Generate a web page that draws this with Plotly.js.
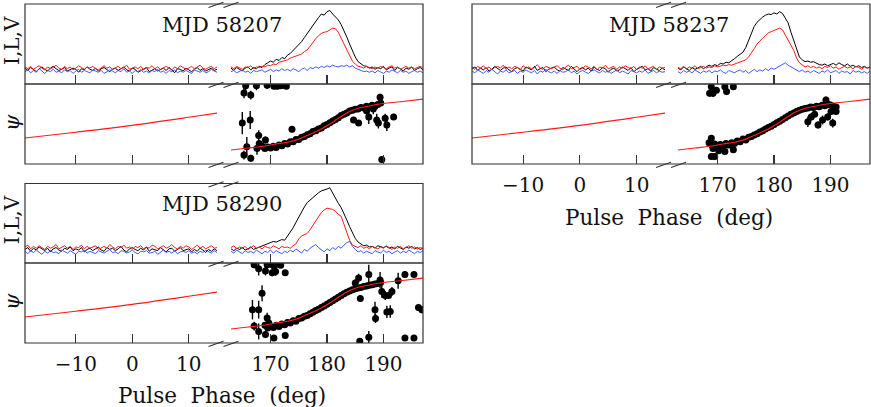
<!DOCTYPE html>
<html><head><meta charset="utf-8">
<script src="https://cdn.plot.ly/plotly-3.0.1.min.js"></script>
<style>html,body{margin:0;padding:0;background:#fff}#chart{width:871px;height:407px}</style>
</head><body><div id="chart"></div>
<script>
// ---------- DATA ----------
const phaseStartLeft = -19, phaseStartRight = 163, phaseStep = 0.5;
const rangeLeft = [-19, 15], rangeRight = [163, 197];
const tickLeft = [-10, 0, 10], tickRight = [170, 180, 190];
const paRange = [-90, 90];
const panelLabels = ['MJD 58207', 'MJD 58237', 'MJD 58290'];
const xTitle = 'Pulse&nbsp; Phase&nbsp; (deg)';

// profiles (percent of peak I), left segment -19..15, right segment 163..197, step 0.5 deg
const mjd58207_I_left = [3,-1,4,0,-3,2,5,1,-2,3, 6,2,-1,1,4,-2,0,3,1,-4, 2,0,5,1,-1,3,-2,2,4,0, -3,1,3,-1,2,5,0,-2,3,1, -4,-1,2,4,-3,0,2,-2,1,3, -1,4,0,-5,2,1,-2,3,0,-3, 1,4,-1,2,-2,0,3,-1,1];
const mjd58207_L_left = [5,2,6,1,4,7,3,0,5,2, 4,8,3,1,6,2,5,0,3,7, 4,1,5,3,6,2,0,4,7,3, 5,1,3,6,2,4,8,1,3,5, 2,6,0,4,3,7,2,5,1,4, 6,3,0,5,2,7,4,1,3,6, 2,5,8,3,1,4,6,2,5];
const mjd58207_V_left = [-3,0,-5,-1,-4,2,-2,-6,-1,-3, 1,-4,-2,-5,0,-3,-1,-6,-2,1, -4,-1,-3,-5,0,-2,-4,-1,-6,-3, 0,-2,-5,-1,-3,2,-4,-2,-6,-1, -3,0,-4,-2,-5,-1,-3,1,-4,-2, -6,-1,-3,0,-5,-2,-4,-1,-3,-6, 0,-2,-4,-1,-5,-3,1,-2,-4];
const mjd58207_I_right = [3,-1,4,1,-2,3,5,0,4,2, 6,4,9,12,15,13,18,16,21,19, 25,28,33,37,42,48,55,62,69,77, 83,89,95,93,99,101,95,90,85,77, 67,56,44,32,22,14,10,7,6,3, 5,1,4,2,6,0,3,5,-1,4, 2,-2,3,1,5,-1,2,4,0];
const mjd58207_L_right = [5,2,6,3,1,5,4,7,2,5, 4,6,5,8,7,10,9,13,14,16, 17,20,22,24,25,27,31,34,40,47, 53,58,62,64,65,68,71,70,64,54, 44,34,24,15,10,6,5,3,6,4, 2,5,3,6,4,2,5,7,3,5, 1,4,6,3,5,2,4,6,3];
const mjd58207_V_right = [-3,-1,-5,-2,0,-4,-2,-6,-1,-3, -2,0,-4,-1,1,-3,0,-2,2,-1, 1,-2,2,0,-3,1,3,-1,4,2, 5,3,6,4,7,5,8,6,5,7, 6,8,5,7,3,1,-1,-3,-2,-4, -2,-5,-1,-3,-6,-2,-4,0,-3,-5, -1,-4,-2,-6,-3,-1,-4,-2,-5];

const mjd58237_I_left = [2,5,-1,3,0,4,-2,1,6,2, -1,3,5,0,-3,2,4,1,-2,5, 3,0,6,-1,2,4,-3,1,3,5, 0,-2,4,2,-1,6,1,-3,2,4, 0,3,-2,5,1,-1,4,2,-4,1, 3,-2,0,5,2,-1,4,-3,1,3, 6,0,2,-2,4,1,-1,3,0];
const mjd58237_L_left = [4,1,6,3,7,2,5,0,4,6, 3,8,1,5,2,6,4,0,7,3, 5,2,4,9,3,1,6,4,2,5, 7,3,0,5,8,2,4,6,1,3, 7,4,2,6,0,5,3,8,2,4, 6,1,5,3,7,4,2,6,0,5, 3,7,2,4,6,1,5,3,4];
const mjd58237_V_left = [-2,-5,0,-3,-6,-1,-4,1,-3,-7, -2,-4,0,-5,-3,-1,-6,-2,-4,0, -3,-5,-1,-7,-2,-4,1,-3,-5,-2, -6,-1,-4,-3,0,-5,-2,-7,-3,-1, -4,-6,-2,0,-3,-5,-1,-4,-2,-6, -3,0,-5,-2,-4,-7,-1,-3,-5,-2, -4,0,-6,-3,-1,-5,-2,-4,-3];
const mjd58237_I_right = [3,0,5,2,-1,4,1,3,6,2, 5,8,6,9,7,11,10,13,12,15, 19,23,26,30,38,50,65,74,81,86, 90,93,95,94,97,95,99,96,89,80, 64,50,34,22,17,14,15,13,14,11, 9,8,10,7,9,11,8,12,9,7, 10,6,8,5,7,4,6,3,5];
const mjd58237_L_right = [4,2,6,1,5,3,7,2,4,6, 3,5,4,7,5,6,8,7,9,8, 10,12,13,15,17,22,28,36,44,50, 54,58,63,65,67,69,71,68,60,52, 42,33,20,12,8,5,7,4,6,3, 5,2,6,4,7,3,5,1,4,6, 3,5,2,6,4,1,5,3,4];
const mjd58237_V_right = [-3,-6,-1,-4,-2,-5,0,-3,-6,-2, -4,-1,-5,-2,-3,0,-4,-6,-1,-3, -5,-2,0,-4,-1,-6,-2,1,-3,0, -2,2,-1,3,1,4,6,9,12,8, 5,2,-1,-3,0,-4,-2,-5,-1,-3, -6,-2,-4,0,-5,-3,-1,-6,-2,-4, -3,-7,-1,-4,-2,-5,-3,-6,-2];

const mjd58290_I_left = [1,4,-2,3,0,5,2,-1,3,-3, 2,4,0,-2,3,1,5,-1,2,0, 4,-3,1,3,-1,2,5,0,-2,4, 1,3,-1,2,6,0,-3,2,4,1, -1,3,0,5,-2,2,1,-1,4,0, -3,2,3,-2,1,4,-1,0,2,-3, 1,-2,3,0,-4,1,-2,2,-1];
const mjd58290_L_left = [5,8,2,6,3,7,4,1,6,3, 5,9,2,4,7,3,6,1,5,4, 8,2,6,3,5,7,1,4,6,3, 9,5,2,6,4,8,3,5,1,6, 4,7,2,5,3,8,6,2,4,7, 3,5,9,4,2,6,3,7,5,1, 4,8,3,6,2,5,7,3,4];
const mjd58290_V_left = [-2,-6,-1,-4,0,-3,-7,-2,-5,-1, -4,-3,-6,0,-2,-5,-1,-4,-7,-2, -3,0,-5,-2,-4,-6,-1,-3,-5,-2, 1,-4,-3,-6,-1,-2,-5,-3,0,-4, -6,-2,-3,-1,-5,-4,-2,-7,-3,0, -4,-2,-5,-1,-6,-3,-2,-4,-1,-5, -3,-6,-2,-4,0,-3,-5,-1,-4];
const mjd58290_I_right = [2,-1,3,1,4,0,2,5,1,3, 4,7,9,11,12,14,13,15,17,16, 22,28,36,45,54,62,70,77,81,86, 89,93,96,97,99,101,92,84,76,69, 60,49,38,27,19,13,10,7,8,5, 6,3,7,5,4,6,3,5,2,6, 4,1,5,3,6,2,4,1,3];
const mjd58290_L_right = [4,7,2,5,3,6,1,4,7,3, 5,2,6,4,3,7,5,2,6,4, 5,3,7,10,18,23,25,27,33,40, 47,55,61,65,68,67,66,63,58,55, 42,30,16,8,6,4,7,3,5,2, 6,4,2,5,3,7,4,1,5,3, 6,2,4,7,3,5,2,4,3];
const mjd58290_V_right = [-2,-5,0,-3,-6,-1,-4,-2,-5,0, -3,-6,-2,-4,0,-5,-1,-3,-6,-2, -4,0,-3,2,-1,-5,1,-2,3,6, 9,4,0,-3,2,-1,4,1,6,3, 8,12,14,6,1,-3,-1,-5,-2,-4, -6,-1,-3,-5,0,-4,-2,-6,-3,-1, -5,-2,-4,0,-3,-6,-2,-4,-1];

// position angle points (deg), with errors
const mjd58207_paPhase = [168,168.5,169,169.5,170,170.5,171,171.5,172,172.5,173,173.5,174,174.5,175,175.5,176,176.5,177,177.5,178,178.5,179,179.5,180,180.5,181,181.5,182,182.5,183,183.5,184,184.5,185,185.5,186,186.5,187,187.5,188,188.5,189,189.5,
 165.6,167.5,169.4,170.6,171.2,171.8,172.4,172.8,165.3,166.5,165.0,166.4,167.9,165.8,167.6,165.3,166.5,169.1,173.8,184.7,185.6,187.4,188.8,189.1,190.3,190.6,191.8,189.4,189.7,187.0,188.2];
const mjd58207_pa = [-44,-50,-55,-52,-54,-50,-53,-47,-49,-44,-45,-40,-40,-35,-35,-30,-28,-24,-22,-17,-15,-11,-9,-4,-1,3,7,10,14,19,22,25,29,31,33,34,37,36,40,38,42,40,44,47,
 86,86,87,85,85,86,87,85,70,65,2,9,-26,-51,-55,-70,-77,-36,-12,9,2,16,9,2,13,-2,16,60,-80,30,34];
const mjd58207_paErr = [6,5,4,4,3,3,3,3,3,3,3,3,3,3,2,2,2,2,2,2,2,2,2,2,2,2,2,2,2,2,2,2,2,3,3,3,3,4,4,5,5,6,6,7,
 12,10,8,6,5,5,4,5,12,10,25,20,12,22,14,10,8,8,7,7,6,16,14,12,10,14,7,8,5,14,12];

const mjd58237_paPhase = [168.5,169,169.5,170,170.5,171,171.5,172,172.5,173,173.5,174,174.5,175,175.5,176,176.5,177,177.5,178,178.5,179,179.5,180,180.5,181,181.5,182,182.5,183,183.5,184,184.5,185,185.5,186,186.5,187,187.5,188,188.5,189,189.5,190,190.5,191,
 168.9,169.2,169.8,171.3,171.6,172.8,168.6,168.9,169.5,171.3,172.8,171.6,168.9,169.2,170.2,186.0,187.8,188.6,190.1,190.4,191.0,189.2,189.0,189.5,186.6,187.2];
const mjd58237_pa = [-42,-48,-45,-50,-46,-49,-44,-47,-42,-44,-38,-40,-34,-36,-30,-28,-25,-22,-18,-15,-11,-8,-5,-1,3,6,10,14,18,22,25,28,31,33,35,36,38,37,40,39,42,41,45,43,40,38,
 84,69,76,84,73,84,69,-73,-73,-62,-58,-47,-32,-55,-60,5,-2,9,28,2,28,54,43,16,16,22];
const mjd58237_paErr = [5,5,4,4,4,4,3,3,3,3,3,3,3,3,3,2,2,2,2,2,2,2,2,2,2,2,2,2,2,2,2,2,2,3,3,3,3,3,4,4,5,5,6,6,6,7,
 6,8,6,5,8,5,8,6,8,6,5,4,5,8,6,12,8,10,8,10,5,8,6,8,8,6];

const mjd58290_paPhase = [169,169.5,170,170.5,171,171.5,172,172.5,173,173.5,174,174.5,175,175.5,176,176.5,177,177.5,178,178.5,179,179.5,180,180.5,181,181.5,182,182.5,183,183.5,184,184.5,185,185.5,186,186.5,187,187.5,188,188.5,189,189.5,
 167.1,167.9,169.4,170.0,170.6,171.2,171.8,170.9,170.3,172.6,169.1,166.8,167.9,168.5,167.9,169.4,169.7,169.1,170.6,172.6,167.1,
 185.0,185.6,185.9,187.4,188.5,188.6,189.4,189.7,190.3,190.6,190.9,191.2,191.5,192.6,193.8,195.4,196.2,196.8,185.8,187.4,193.8,195.4];
const mjd58290_pa = [-50,-56,-52,-55,-50,-53,-47,-49,-44,-45,-40,-41,-35,-34,-30,-28,-24,-21,-17,-14,-10,-7,-3,1,5,9,13,17,21,24,27,30,32,34,35,37,38,40,41,43,44,46,
 86,77,86,87,83,87,85,71,68,68,72,-15,-15,22,-64,-34,-45,-71,-79,-73,-52,
 45,56,10,64,-15,-35,52,26,17,-20,17,-19,26,50,64,64,-10,-15,-86,-77,-79,-79];
const mjd58290_paErr = [6,6,5,5,4,4,4,3,3,3,3,3,3,3,3,2,2,2,2,2,2,2,2,2,2,2,2,2,2,2,2,3,3,3,3,3,4,4,4,5,5,6,
 8,15,8,6,8,6,6,10,8,6,10,22,20,18,18,12,8,8,6,5,10,
 8,10,6,22,18,10,18,14,10,14,8,14,10,18,8,6,8,8,5,14,5,5];

// fitted PA curve (same for all epochs)
const fitPhaseLeft = [-19,-10,0,10,15];
const fitPaLeft = [-31.5,-18.5,-3,15,24.5];
const fitPhaseRight = [163,166,169,171,173,175,177,179,180,181,182,183,184,185,186,188,190,193,197];
const fitPaRight = [-58.5,-54,-49.5,-45,-41,-34,-23,-11,-4,4,13,21,28,33,37,42,46,50,56];

// ---------- LAYOUT ----------
const W = 871, H = 407;
const FONT = 'DejaVu Serif';
const INK = '#111', FRAME = '#333';
const colI = '#000000', colL = '#ff1a1a', colV = '#3a5cff';

const panels = [
  {label: panelLabels[0], I:[mjd58207_I_left, mjd58207_I_right], L:[mjd58207_L_left, mjd58207_L_right], V:[mjd58207_V_left, mjd58207_V_right],
   pa:[mjd58207_paPhase, mjd58207_pa, mjd58207_paErr], x0:25, x1:423, gapL:217, gapR:231, yTop:4, yMid:84, yBot:164, prof:[-24,112], tickLabels:false, yTitles:true, xTitleY:null},
  {label: panelLabels[1], I:[mjd58237_I_left, mjd58237_I_right], L:[mjd58237_L_left, mjd58237_L_right], V:[mjd58237_V_left, mjd58237_V_right],
   pa:[mjd58237_paPhase, mjd58237_pa, mjd58237_paErr], x0:472, x1:870, gapL:665, gapR:678, yTop:4, yMid:84, yBot:164, prof:[-24,112], tickLabels:true, yTitles:false, xTitleY:217},
  {label: panelLabels[2], I:[mjd58290_I_left, mjd58290_I_right], L:[mjd58290_L_left, mjd58290_L_right], V:[mjd58290_V_left, mjd58290_V_right],
   pa:[mjd58290_paPhase, mjd58290_pa, mjd58290_paErr], x0:25, x1:423, gapL:217, gapR:231, yTop:183.5, yMid:263, yBot:343, prof:[-21,108], tickLabels:true, yTitles:true, xTitleY:395}
];

const px = v => v / W, py = v => 1 - v / H;
const layout = {width: W, height: H, margin:{l:0,r:0,t:0,b:0}, paper_bgcolor:'#fff', plot_bgcolor:'rgba(0,0,0,0)',
  showlegend:false, font:{family:FONT, color:INK}, shapes:[], annotations:[]};
const traces = [];

panels.forEach((p, pi) => {
  for (let r = 0; r < 2; r++) {
    for (let s = 0; s < 2; s++) {
      const k = pi*4 + r*2 + s + 1;
      const xs = k === 1 ? '' : String(k);
      const xd = s === 0 ? [px(p.x0), px(p.gapL)] : [px(p.gapR), px(p.x1)];
      const yd = r === 0 ? [py(p.yMid), py(p.yTop)] : [py(p.yBot), py(p.yMid)];
      layout['xaxis'+xs] = {domain:xd, range: s===0?rangeLeft:rangeRight, anchor:'y'+xs,
        tickmode:'array', tickvals: s===0?tickLeft:tickRight, ticks:'inside', ticklen:9, tickwidth:1.1, tickcolor:FRAME,
        showticklabels: r===1 && p.tickLabels, ticklabelstandoff:7,
        tickfont:{family:FONT, size:20, color:INK}, showgrid:false, zeroline:false, showline:false, fixedrange:true};
      layout['yaxis'+xs] = {domain:yd, range: r===0?p.prof:paRange, anchor:'x'+xs,
        showticklabels:false, ticks:'', showgrid:false, zeroline:false, showline:false, fixedrange:true};
      const ax = {xaxis:'x'+xs, yaxis:'y'+xs};
      const x0 = s===0 ? phaseStartLeft : phaseStartRight;
      if (r === 0) {
        [[p.I[s], colI], [p.L[s], colL], [p.V[s], colV]].forEach(([arr, c]) => {
          traces.push(Object.assign({type:'scatter', mode:'lines', x0:x0, dx:phaseStep, y:arr,
            line:{color:c, width:1}, hoverinfo:'skip'}, ax));
        });
      } else {
        if (s === 1) {
          traces.push(Object.assign({type:'scatter', mode:'markers', x:p.pa[0], y:p.pa[1],
            marker:{color:'#000', size:7}, error_y:{type:'data', array:p.pa[2], visible:true, color:'#000', thickness:1.4, width:0},
            hoverinfo:'skip'}, ax));
        }
        traces.push(Object.assign({type:'scatter', mode:'lines', x: s===0?fitPhaseLeft:fitPhaseRight, y: s===0?fitPaLeft:fitPaRight,
          line:{color:colL, width:1.1, shape:'spline'}, hoverinfo:'skip'}, ax));
      }
    }
  }
  // frames
  [[p.yTop, p.yMid], [p.yMid, p.yBot]].forEach(([a, b]) => {
    layout.shapes.push({type:'rect', xref:'paper', yref:'paper', x0:px(p.x0), x1:px(p.x1), y0:py(b), y1:py(a),
      line:{color:FRAME, width:1.2}, fillcolor:'rgba(0,0,0,0)', layer:'above'});
  });
  // axis-break marks
  const c = (p.gapL + p.gapR) / 2;
  [p.yTop, p.yMid, p.yBot].forEach(yb => {
    [c - 8, c + 7].forEach(xc => {
      layout.shapes.push({type:'line', xref:'paper', yref:'paper', x0:px(xc-7.5), y0:py(yb+3.6), x1:px(xc+7.5), y1:py(yb-1.8),
        line:{color:FRAME, width:1.1}, layer:'above'});
    });
  });
  // labels
  layout.annotations.push({xref:'paper', yref:'paper', x:px(p.x0+197), y:py(p.yTop+21), text:p.label, showarrow:false,
    xanchor:'center', yanchor:'middle', font:{family:FONT, size:21, color:INK}});
  if (p.yTitles) {
    layout.annotations.push({xref:'paper', yref:'paper', x:px(12), y:py((p.yTop+p.yMid)/2 - 3), text:'I,L,V', textangle:-90,
      showarrow:false, xanchor:'center', yanchor:'middle', font:{family:FONT, size:20, color:INK}});
    layout.annotations.push({xref:'paper', yref:'paper', x:px(12), y:py((p.yMid+p.yBot)/2 - 1), text:'<i>ψ</i>', textangle:-90,
      showarrow:false, xanchor:'center', yanchor:'middle', font:{family:FONT, size:21, color:INK}});
  }
  if (p.xTitleY !== null) {
    layout.annotations.push({xref:'paper', yref:'paper', x:px((p.x0+p.x1)/2 - 2), y:py(p.xTitleY), text:xTitle, showarrow:false,
      xanchor:'center', yanchor:'middle', font:{family:FONT, size:21.5, color:INK}});
  }
});

Plotly.newPlot('chart', traces, layout, {staticPlot:true, displayModeBar:false});
</script></body></html>
